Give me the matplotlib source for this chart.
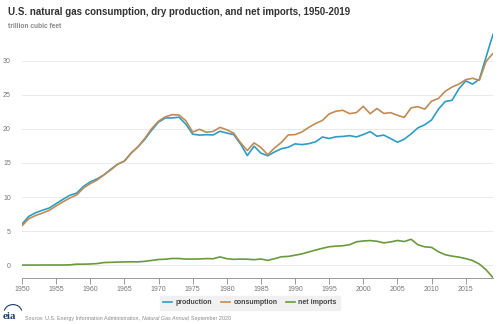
"""U.S. natural gas consumption, dry production and net imports, 1950-2019."""

import matplotlib
matplotlib.use("Agg")
from matplotlib import pyplot as plt
from matplotlib.patches import Arc

plt.rcParams['font.family'] = ['Liberation Sans', 'DejaVu Sans']

YEARS = list(range(1950, 2020))

# Trillion cubic feet per year.
PRODUCTION = [
    6.02, 7.16, 7.69, 8.06, 8.39, 9.03, 9.66, 10.25, 10.57, 11.55,
    12.23, 12.66, 13.25, 14.08, 14.81, 15.29, 16.47, 17.39, 18.49, 19.83,
    21.01, 21.61, 21.62, 21.73, 20.71, 19.24, 19.10, 19.16, 19.12, 19.66,
    19.40, 19.18, 17.82, 16.09, 17.47, 16.45, 16.06, 16.62, 17.10, 17.31,
    17.81, 17.70, 17.84, 18.10, 18.82, 18.60, 18.85, 18.90, 19.02, 18.83,
    19.18, 19.62, 18.93, 19.10, 18.59, 18.05, 18.50, 19.27, 20.16, 20.62,
    21.32, 22.90, 24.03, 24.21, 25.89, 27.07, 26.59, 27.29, 30.63, 33.90,
]
CONSUMPTION = [
    5.77, 6.81, 7.29, 7.64, 8.05, 8.69, 9.29, 9.85, 10.30, 11.32,
    11.97, 12.49, 13.27, 13.97, 14.81, 15.28, 16.45, 17.39, 18.63, 20.06,
    21.14, 21.79, 22.10, 22.05, 21.22, 19.54, 19.95, 19.52, 19.63, 20.24,
    19.88, 19.40, 18.00, 16.83, 17.95, 17.28, 16.22, 17.21, 18.03, 19.12,
    19.17, 19.56, 20.23, 20.79, 21.25, 22.21, 22.61, 22.74, 22.25, 22.41,
    23.33, 22.24, 23.01, 22.28, 22.40, 22.01, 21.70, 23.10, 23.28, 22.91,
    24.09, 24.48, 25.54, 26.16, 26.59, 27.24, 27.45, 27.15, 29.96, 31.10,
]
NET_IMPORTS = [
    0.00, 0.00, 0.00, 0.01, 0.01, 0.01, 0.01, 0.03, 0.13, 0.13,
    0.16, 0.22, 0.37, 0.40, 0.44, 0.46, 0.48, 0.47, 0.55, 0.68,
    0.82, 0.86, 0.97, 0.96, 0.88, 0.88, 0.90, 0.95, 0.93, 1.20,
    0.94, 0.84, 0.88, 0.86, 0.79, 0.89, 0.69, 0.94, 1.22, 1.27,
    1.45, 1.64, 1.92, 2.21, 2.46, 2.69, 2.78, 2.84, 2.99, 3.42,
    3.54, 3.60, 3.50, 3.26, 3.40, 3.61, 3.46, 3.79, 2.98, 2.68,
    2.60, 1.96, 1.52, 1.31, 1.17, 0.95, 0.67, 0.15, -0.71, -1.85,
]

BLUE = '#2f9cc4'
BROWN = '#bf8c55'
GREEN = '#6a9a3c'
GREY = '#777777'


def _main():
    fig = plt.figure(figsize=(5.0, 3.24), dpi=100)
    ax = fig.add_axes([0.044, 0.142, 0.942, 0.775])

    ax.plot(YEARS, PRODUCTION, color=BLUE, lw=1.2, label='production')
    ax.plot(YEARS, CONSUMPTION, color=BROWN, lw=1.2, label='consumption')
    ax.plot(YEARS, NET_IMPORTS, color=GREEN, lw=1.2, label='net imports')

    ax.set_xlim(1950, 2019)
    ax.set_ylim(-1.9, 35)
    ax.set_yticks(range(0, 31, 5))
    ax.set_xticks(range(1950, 2016, 5))
    ax.grid(axis='y', color='#e6e6e6', lw=0.6)
    ax.set_axisbelow(True)
    for side in ('top', 'right', 'left'):
        ax.spines[side].set_visible(False)
    ax.spines['bottom'].set_color('#999999')
    ax.spines['bottom'].set_linewidth(0.7)
    ax.tick_params(axis='y', length=0, labelsize=5, labelcolor=GREY, pad=8)
    ax.tick_params(axis='x', length=4, width=0.7, color='#999999',
                   labelsize=5, labelcolor=GREY, pad=2)

    fig.text(0.016, 0.978, 'U.S. natural gas consumption, dry production, and net imports, 1950-2019',
             fontsize=7.0, fontweight='bold', color='#333333', va='top')
    fig.text(0.016, 0.93, 'trillion cubic feet', fontsize=4.8, fontweight='bold',
             color='#888888', va='top')

    leg = fig.legend(loc='center', bbox_to_anchor=(0.5, 0.065), ncol=3, fontsize=5.0,
                     frameon=True, fancybox=False, handlelength=1.3, handletextpad=0.5,
                     columnspacing=1.2, borderpad=0.55)
    leg.get_frame().set_facecolor('#eeeeee')
    leg.get_frame().set_edgecolor('#eeeeee')
    for text in leg.get_texts():
        text.set_fontweight('bold')
        text.set_color('#444444')

    # source line, with the publication title in italics
    src = fig.text(0.05, 0.01, 'Source: U.S. Energy Information Administration, ',
                   fontsize=3.85, color='#888888', va='bottom')
    pub = ax.annotate('Natural Gas Annual', xy=(1, 0), xycoords=src, va='bottom',
                      fontsize=3.85, color='#888888', style='italic', annotation_clip=False)
    ax.annotate(', September 2020', xy=(1, 0), xycoords=pub, va='bottom',
                fontsize=3.85, color='#888888', annotation_clip=False)

    # eia logo
    fig.text(0.006, 0.008, 'eia', fontsize=8, color='#1f3f6e', fontweight='bold',
             family='Liberation Serif', va='bottom')
    fig.add_artist(Arc((0.026, 0.035), 0.036, 0.05, theta1=20, theta2=160,
                       transform=fig.transFigure, color='#1f3f6e', lw=0.8))

    fig.savefig('out.png', dpi=100)


if __name__ == '__main__':
    _main()
